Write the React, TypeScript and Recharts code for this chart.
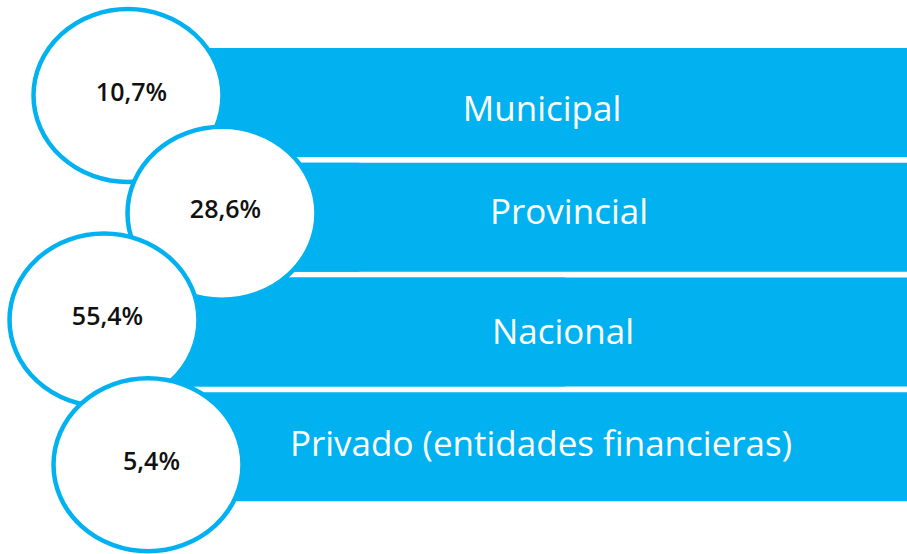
import { Bar, BarChart, LabelList, XAxis, YAxis } from "recharts";

const BLUE = "#02B1F0";

const categories = ["Municipal", "Provincial", "Nacional", "Privado (entidades financieras)"];
const shares = [10.7, 28.6, 55.4, 5.4];
const shareLabels = ["10,7%", "28,6%", "55,4%", "5,4%"];

// zig-zag placement of the bubbles and the label centres, relative to each bar
const BUBBLE_DX = [-12, 82, -36, 8];
const BUBBLE_DY = [-7, -4, -12, 18];
const TEXT_DX = [402, 429, 423, 401];
const TEXT_DY = [18, 7, 12, 9];

const data = categories.map((name, i) => ({
  name,
  share: shares[i],
  label: shareLabels[i]
}));

function Bubble(props: any) {
  const i = props.index ?? 0;
  const x = Number(props.x);
  const y = Number(props.y);
  const h = Number(props.height);
  const cx = x + BUBBLE_DX[i];
  const cy = y + h / 2 + BUBBLE_DY[i];
  return (
    <g>
      <ellipse cx={cx} cy={cy} rx={94.5} ry={86.5} fill="#ffffff" stroke={BLUE} strokeWidth={4.5} />
      <text
        x={cx + 3.5}
        y={cy + 5}
        textAnchor="middle"
        fontFamily='"Open Sans", sans-serif'
        fontWeight={600}
        fontSize={25}
        fill="#111111"
      >
        {shareLabels[i]}
      </text>
    </g>
  );
}

function CategoryText(props: any) {
  const i = props.index ?? 0;
  const x = Number(props.x);
  const y = Number(props.y);
  const h = Number(props.height);
  return (
    <text
      x={x + TEXT_DX[i]}
      y={y + h / 2 + TEXT_DY[i]}
      textAnchor="middle"
      fontFamily='"Open Sans", sans-serif'
      fontWeight={500}
      fontSize={35}
      fill="#ffffff"
    >
      {categories[i]}
    </text>
  );
}

export default function App() {
  return (
    <div style={{ position: "absolute", left: 0, top: 0, width: 907, height: 554, background: "#fff" }}>
      <BarChart
        width={907}
        height={554}
        data={data}
        layout="vertical"
        margin={{ top: 45, right: 0, bottom: 50, left: 140 }}
        barCategoryGap={3}
      >
        <XAxis type="number" domain={[0, 100]} hide />
        <YAxis type="category" dataKey="name" hide />
        <Bar
          dataKey="share"
          fill={BLUE}
          background={{ fill: BLUE }}
          isAnimationActive={false}
        >
          <LabelList dataKey="name" content={(p: any) => <CategoryText {...p} />} />
          <LabelList dataKey="label" content={(p: any) => <Bubble {...p} />} />
        </Bar>
      </BarChart>
    </div>
  );
}
